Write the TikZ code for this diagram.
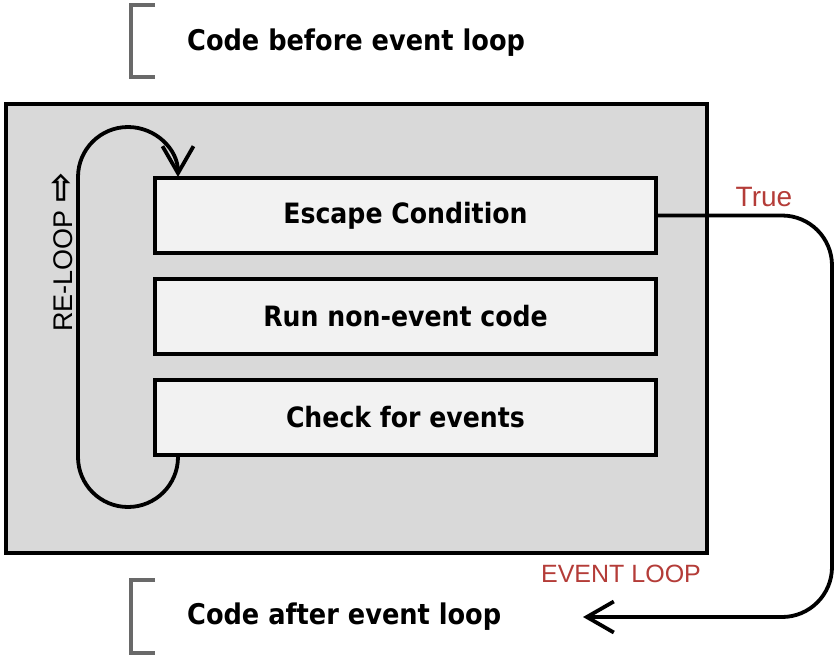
\documentclass[tikz,border=0pt]{standalone}
\usepackage{fontspec}
\setmainfont{DejaVu Sans Condensed}
\newfontfamily\arialfont{Liberation Sans}
\newfontfamily\arrowfont{DejaVu Sans Bold}
\usetikzlibrary{arrows.meta,positioning}
\definecolor{loopgray}{RGB}{217,217,217}
\definecolor{stepfill}{RGB}{242,242,242}
\definecolor{labelred}{RGB}{180,60,56}
\definecolor{bracketgray}{RGB}{105,105,105}

\begin{document}
\begin{tikzpicture}[x=1pt,y=-1pt,
  stepbox/.style={draw=black,fill=stepfill,line width=4pt,minimum width=501pt,minimum height=75pt,inner sep=0pt,font=\bfseries\fontsize{28}{33}\selectfont},
  plaintext/.style={inner sep=0pt,anchor=west,font=\bfseries\fontsize{28.5}{33}\selectfont},
  redlabel/.style={inner sep=0pt,text=labelred,font=\arialfont\fontsize{25}{30}\selectfont},
  bracket/.style={draw=bracketgray,line width=4pt},
  flow/.style={draw=black,line width=3.8pt},
  openhead/.style={-{Straight Barb[length=27pt,width=31pt,line width=3.8pt]}}]
\path[use as bounding box] (0,0) rectangle (840,659);
% outer event loop
\path[fill=loopgray,draw=black,line width=4pt] (6,104) rectangle (707,553);
\node[stepbox] (escape) at (405.5,215.5) {Escape Condition};
\node[stepbox,below=22pt of escape] (run) {Run non-event code};
\node[stepbox,below=22pt of run] (check) {Check for events};
\node[rotate=90,inner sep=0pt,font=\arialfont\fontsize{27}{32}\selectfont] (reloop) at (62,252) {RE-LOOP {\arrowfont\fontsize{36}{36}\selectfont ⇨}};
% code outside the loop
\node[plaintext] (before) at (187,43) {Code before event loop};
\node[plaintext] (after) at (187,617) {Code after event loop};
\draw[bracket] (155,5) -- (131,5) -- (131,77) -- (155,77);
\draw[bracket] (155,580) -- (131,580) -- (131,653) -- (155,653);
\node[redlabel,font=\arialfont\fontsize{28}{32}\selectfont] (true) at (764,197) {True};
\node[redlabel] (eventloop) at (621,574) {EVENT LOOP};
\coordinate (exit) at (583,617);
% connectors
\draw[flow,openhead] ([xshift=25pt]check.south west) arc[start angle=0,end angle=-180,radius=50pt] -- ++(0pt,280pt) arc[start angle=180,end angle=0,radius=50pt];
\draw[flow,openhead,rounded corners=50pt] (escape.east) -| ([xshift=249pt]exit) -- (exit);
\end{tikzpicture}
\end{document}
